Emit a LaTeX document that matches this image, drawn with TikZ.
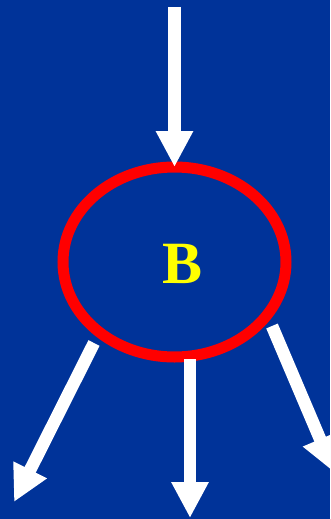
\documentclass[tikz,border=0pt]{standalone}
\usepackage{fontspec}
\setmainfont{Liberation Serif}
\usepackage{tikz}
\usetikzlibrary{arrows.meta, shapes.geometric}
\definecolor{slideblue}{HTML}{003399}
\definecolor{nodered}{HTML}{FF0000}
\definecolor{labelyellow}{HTML}{FFFF00}

\begin{document}
\begin{tikzpicture}[x=1pt, y=-1pt,
    flow/.style={draw=white, line width=12.5pt,
                 -{Triangle[length=36pt, width=35pt]}},
    state/.style={ellipse, draw=nodered, line width=11pt,
                  minimum width=223pt, minimum height=190pt,
                  inner sep=0pt, outer sep=0pt}]
    % background
    \fill[slideblue] (0,0) rectangle (330,519);
    \useasboundingbox (0,0) rectangle (330,519);
    \clip (0,0) rectangle (330,519);

    \node[state] (b) at (174.5,262) {};
    \node[text=labelyellow, font=\bfseries\fontsize{60}{60}\selectfont,
          inner sep=0pt] (lblB) at (182.5,263.5) {B};

    \coordinate (in)   at (174.5,7);
    \coordinate (sL)   at (94,343);
    \coordinate (outL) at (14,502);
    \coordinate (sM)   at (190,359);
    \coordinate (outM) at (190,518);
    \coordinate (sR)   at (272,326);
    \coordinate (outR) at (334.2,472.3);

    \draw[flow] (in) -- (b.north);
    \draw[flow] (sL) -- (outL);
    \draw[flow] (sM) -- (outM);
    \draw[flow] (sR) -- (outR);
\end{tikzpicture}
\end{document}
